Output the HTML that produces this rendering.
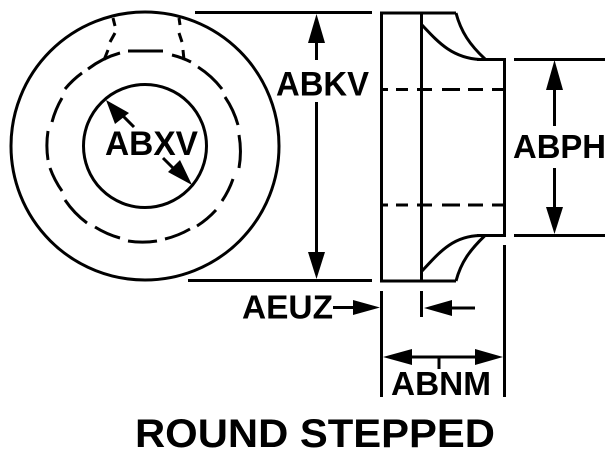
<!DOCTYPE html>
<html>
<head>
<meta charset="utf-8">
<style>
html,body{margin:0;padding:0;background:#fff;}
svg{display:block;}
text{font-family:"Liberation Sans",sans-serif;font-weight:bold;fill:#000;}
</style>
</head>
<body>
<svg width="613" height="452" viewBox="0 0 613 452" xmlns="http://www.w3.org/2000/svg">
<g fill="none" stroke="#000" stroke-width="3">
  <circle cx="145" cy="146" r="134"/>
  <circle cx="145" cy="146" r="61.5"/>
  <g>
    <path d="M128 51H163"/>
    <path d="M172 55A95 95 0 0 1 191 62"/>
    <path d="M198 67A95 95 0 0 1 222 89"/>
    <path d="M225 97A95 95 0 0 1 238 125"/>
    <path d="M239 135A95 95 0 0 1 239 168"/>
    <path d="M233 179A95 95 0 0 1 222 201"/>
    <path d="M216 210A95 95 0 0 1 197 226"/>
    <path d="M190 229A95 95 0 0 1 165 239"/>
    <path d="M157 241A95 95 0 0 1 128 241"/>
    <path d="M120 238A95 95 0 0 1 95 227"/>
    <path d="M87 223A95 95 0 0 1 65 200"/>
    <path d="M62 191A95 95 0 0 1 50 168"/>
    <path d="M48 160A95 95 0 0 1 48 131"/>
    <path d="M52 122A95 95 0 0 1 62 98"/>
    <path d="M65 89A95 95 0 0 1 82 73"/>
    <path d="M88 69A95 95 0 0 1 120 53"/>
  </g>
  <path d="M113 18L115 26M115 33L110 42M108 50L104 60"/>
  <path d="M179 18L180 25M179 33L182 42M183 50L184 60"/>
  <path d="M195 12.5H372"/>
  <path d="M188 280.5H372"/>
  <path d="M381.5 13V281M380 13H456M380 281H456M421.5 13V281"/>
  <path d="M456 13C461 32 470 45 485 59"/>
  <path d="M422 25C438 42 452 58 480 59.5"/>
  <path d="M456 281C461 262 470 250 485 235.5"/>
  <path d="M422 271C438 254 452 236 480 235.5"/>
  <path d="M477 59.5H506M504.5 59V235M477 235.5H506"/>
  <path d="M381 89.5H388M396 89.5H408M417 89.5H432M442 89.5H460M468 89.5H483M492 89.5H504"/>
  <path d="M381 205H388M396 205H408M417 205H432M442 205H460M468 205H483M492 205H504"/>
  <path d="M514 59.5H605M514 235.5H605"/>
  <path d="M381.5 291V397M421.5 291V317M504.5 245V397"/>
  <path d="M316.5 40V60M316.5 102V255"/>
  <path d="M554.5 85V126M554.5 168V210"/>
  <path d="M333 307.5H360M445 308H475"/>
  <path d="M400 357H490M439 357V369"/>
  <path d="M120 113L134 127M163 158L175 170"/>
</g>
<g fill="#000" stroke="none">
  <path d="M316.5 14L325 43H308Z"/>
  <path d="M316.5 279L308 252H325Z"/>
  <path d="M554.5 60L563 90H546Z"/>
  <path d="M554.5 234L546 207H563Z"/>
  <path d="M380 307.5L353 300V315Z"/>
  <path d="M424 308L452 300V316Z"/>
  <path d="M383 357L412 349V365Z"/>
  <path d="M503 357L475 349V365Z"/>
  <path d="M106 100L129 113L115 124Z"/>
  <path d="M192 185L168 172L180 160Z"/>
</g>
<text x="276" y="95.5" font-size="34" textLength="93" lengthAdjust="spacingAndGlyphs">ABKV</text>
<text x="105" y="155" font-size="34" textLength="93" lengthAdjust="spacingAndGlyphs">ABXV</text>
<text x="513" y="158" font-size="33" textLength="93" lengthAdjust="spacingAndGlyphs">ABPH</text>
<text x="242" y="318.5" font-size="33" textLength="91" lengthAdjust="spacingAndGlyphs">AEUZ</text>
<text x="391" y="395" font-size="33" textLength="100" lengthAdjust="spacingAndGlyphs">ABNM</text>
<text x="135" y="447" font-size="40" textLength="360" lengthAdjust="spacingAndGlyphs">ROUND STEPPED</text>
</svg>
</body>
</html>
